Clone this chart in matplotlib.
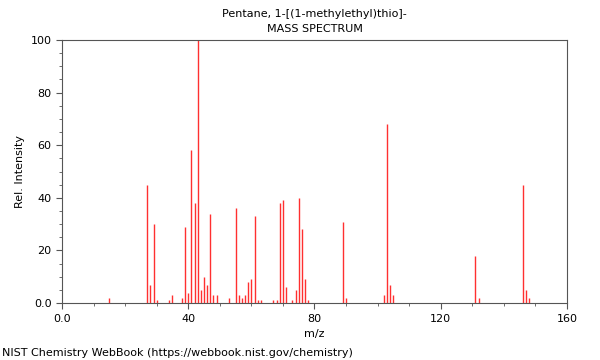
from matplotlib import pyplot as plt
from matplotlib.ticker import MultipleLocator

# peaks
mz = [15, 27, 28, 29, 30, 34, 35, 38, 39, 40, 41, 42, 43, 44, 45, 46, 47, 48, 49,
      53, 55, 56, 57, 58, 59, 60, 61, 62, 63, 67, 68, 69, 70, 71, 73, 74, 75, 76,
      77, 78, 89, 90, 102, 103, 104, 105, 131, 132, 146, 147, 148]
intensity = [2, 45, 7, 30, 1, 1, 3, 2, 29, 4, 58, 38, 100, 5, 10, 7, 34, 3, 3,
             2, 36, 3, 2, 3, 8, 9, 33, 1, 1, 1, 1, 38, 39, 6, 1, 5, 40, 28,
             9, 1, 31, 2, 3, 68, 7, 3, 18, 2, 45, 5, 2]
x_ticks = [0, 40, 80, 120, 160]
x_labels = ["0.0", "40", "80", "120", "160"]
y_ticks = [0, 20, 40, 60, 80, 100]
y_labels = ["0.0", "20", "40", "60", "80", "100"]

fig = plt.figure(figsize=(6, 3.6), dpi=100)
ax = fig.add_axes([0.1033, 0.158, 0.8417, 0.731])
ax.vlines(mz, 0, intensity, color='#ff3030', lw=1.0)

ax.set_xticks(x_ticks)
ax.set_xticklabels(x_labels)
ax.set_yticks(y_ticks)
ax.set_yticklabels(y_labels)
ax.set_xlim(0, 160)
ax.set_ylim(0, 100)
ax.xaxis.set_minor_locator(MultipleLocator(10))
ax.yaxis.set_minor_locator(MultipleLocator(5))
ax.tick_params(labelsize=8, length=4, color='#555555')
ax.tick_params(which='minor', length=2, color='#555555')
for s in ax.spines.values():
    s.set_color('#555555')

ax.set_xlabel("m/z", fontsize=8)
ax.set_ylabel("Rel. Intensity", fontsize=8)
ax.set_title("Pentane, 1-[(1-methylethyl)thio]-\nMASS SPECTRUM", fontsize=8, linespacing=1.6)
fig.text(0.003, 0.01, "NIST Chemistry WebBook (https://webbook.nist.gov/chemistry)", fontsize=8)

plt.savefig("out.png")
